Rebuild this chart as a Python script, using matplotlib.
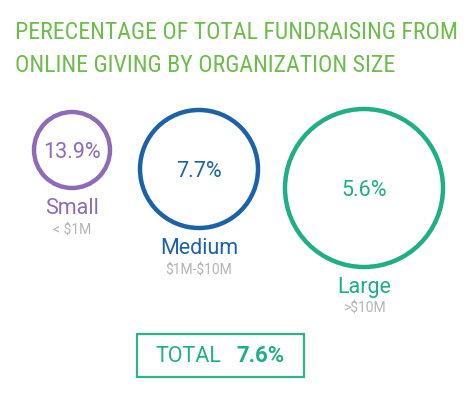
import matplotlib
matplotlib.use("Agg")
import matplotlib.pyplot as plt
from matplotlib.patches import Circle, Rectangle

# data
sizes = ["Small", "Medium", "Large"]
ranges = ["< $1M", "$1M-$10M", ">$10M"]
pct_online = [13.9, 7.7, 5.6]
total_pct = 7.6
title_lines = ["PERECENTAGE OF TOTAL FUNDRAISING FROM",
               "ONLINE GIVING BY ORGANIZATION SIZE"]

# layout (pixels, y down)
centers = [(72, 150), (199, 169), (364, 188)]
radii = [38, 59, 79]
colors = ["#8d6cb5", "#1d62a8", "#1eaf86"]
label_gap = 20

plt.rcParams['font.family'] = ['Roboto', 'Liberation Sans', 'DejaVu Sans']
plt.rcParams['text.parse_math'] = False

fig = plt.figure(figsize=(4.74, 3.94), dpi=100)
ax = fig.add_axes([0, 0, 1, 1])
ax.set_xlim(0, 474)
ax.set_ylim(394, 0)
ax.set_aspect('equal')
ax.axis('off')

for i, (lbl, rng, v) in enumerate(zip(sizes, ranges, pct_online)):
    cx, cy = centers[i]
    r = radii[i]
    ax.add_patch(Circle((cx, cy), r, fill=False, lw=3.2, ec=colors[i]))
    ax.text(cx, cy + 2, f"{v}%", ha='center', va='center', fontsize=15.5,
            color=colors[i])
    ax.text(cx, cy + r + label_gap, lbl, ha='center', va='center',
            fontsize=15.5, color=colors[i])
    ax.text(cx, cy + r + label_gap + 22, rng, ha='center', va='center',
            fontsize=10, color='#b4b4b4')

ax.add_patch(Rectangle((137, 334), 167, 43, fill=False, lw=1.6, ec='#2db38b'))
ax.text(188, 356, "TOTAL", ha='center', va='center', fontsize=15.5,
        color='#1eaf86')
ax.text(261, 356, f"{total_pct}%", ha='center', va='center', fontsize=16,
        color='#1eaf86', fontweight='bold')

# title, shrunk so the first line spans about 443 px
title_texts = []
for k, line in enumerate(title_lines):
    t = ax.text(15, 32 + 33 * k, line, ha='left', va='center', fontsize=20,
                color='#6cbd4c',
                family=['Roboto Condensed', 'Archivo Narrow', 'Liberation Sans'])
    title_texts.append(t)
renderer = fig.canvas.get_renderer()
w = title_texts[0].get_window_extent(renderer).width
fs = min(20, 20 * 443 / w)
for t in title_texts:
    t.set_fontsize(fs)

fig.savefig("out.png", dpi=100)
